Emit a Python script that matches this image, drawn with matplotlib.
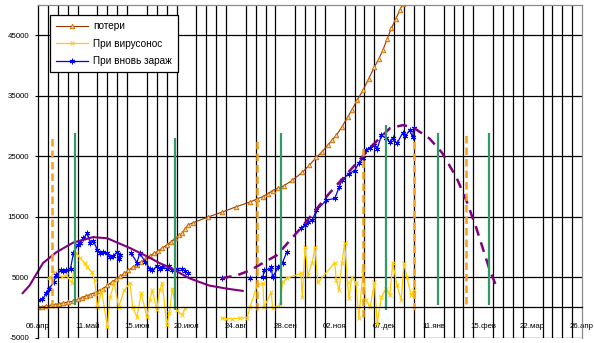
import numpy as np
import matplotlib
matplotlib.use("Agg")
import matplotlib.pyplot as plt

plt.rcParams["font.family"] = ["Liberation Sans", "DejaVu Sans"]

# ── ось времени: дни от 06.апр ───────────────────────────────
tick_days = [0, 35, 70, 105, 140, 175, 210, 245, 280, 315, 350, 385]
tick_labels = ["06.апр", "11.май", "15.июн", "20.июл", "24.авг", "28.сен",
               "02.ноя", "07.дек", "11.янв", "15.фев", "22.мар", "26.апр"]
y_ticks = [-5000, 5000, 15000, 25000, 35000, 45000]

# ── потери ───────────────────────────────────────────────────
loss_days = [0, 3, 6, 9, 12, 15, 18, 21, 25, 28, 31, 34, 37, 40, 43, 46, 49,
             52, 55, 58, 61, 64, 67, 70, 73, 76, 79, 82, 85, 88, 91, 94, 97,
             100, 102, 104, 106, 110, 120, 130, 140, 150, 155, 159, 163, 166,
             170, 174, 180, 187, 192, 197, 201, 205, 208, 211, 215, 219, 222,
             226, 230, 234, 238, 241, 244, 247, 250, 253, 256, 258]
loss_vals = [0, 100, 200, 300, 450, 600, 700, 850, 1000, 1300, 1600, 1900,
             2100, 2400, 2700, 3100, 3600, 4100, 4600, 5100, 5600, 6100, 6600,
             7000, 7500, 8000, 8500, 8900, 9300, 9800, 10300, 10800, 11400,
             11900, 12200, 13000, 13600, 14000, 14900, 15700, 16600, 17400,
             17900, 18300, 18800, 19300, 19700, 20100, 21000, 22300, 23500,
             24800, 25700, 26800, 27600, 28400, 29800, 31400, 32600, 34300,
             35900, 37800, 39700, 41000, 42500, 44300, 46100, 47600, 49100,
             50200]

# ── при вирусоносительстве ───────────────────────────────────
carrier_days = [8, 12, 17, 20, 24, 27, 30, 33, 35, 38, 40, 42, 45, 49, 51, 54,
                57, 61, 65, 67, 70, 73, 77, 79, 81, 84, 86, 88, 91, 93, 95, 98,
                102, 104, 120, 130, 133, 137, 143, 148, 150, 155, 159, 160, 165,
                166, 171, 173, 176, 186, 187, 189, 191, 194, 196, 198, 210, 211,
                213, 215, 217, 219, 220, 222, 225, 227, 230, 232, 235, 238, 240,
                243, 246, 249, 251, 254, 257, 259, 261, 264, 266]
carrier_vals = [4800, 5800, 5000, 5300, 4000, 9000, 8100, 7300, 6600, 5800,
                4500, 0, 2800, -3300, 1700, 4000, 0, 2800, 4000, 0, -1600, 2300,
                -1600, 1200, 2800, -500, 2800, 4000, -3000, -1000, 3100, -500,
                -1300, -200, np.nan, -1800, -1900, -1900, -1800, -1700, 0, 3600,
                4000, 0, 2500, -200, 300, 4100, 4800, 5600, 1700, 9900, 5300,
                7400, 9900, 4100, 7400, 4500, 2800, 7300, 10700, 4100, 1500,
                5000, 4000, -1800, 6100, 1200, 0, 4100, -2600, 1700, 3000, 2000,
                7400, 3600, 1200, 7300, 5000, 2000, 2800]

# ── при вновь заражённых ─────────────────────────────────────
new_days = [0, 3, 6, 8, 11, 13, 16, 18, 20, 23, 25, 28, 30, 32, 35, 37, 39,
            42, 44, 46, 49, 51, 53, 56, 57, 58, 62, 66, 70, 72, 76, 79, 81,
            84, 86, 88, 91, 93, 95, 98, 102, 104, 106, 118, 130, 140, 150, 155,
            159, 160, 164, 165, 166, 170, 173, 176, 180, 186, 189, 191, 194,
            197, 204, 210, 213, 215, 220, 224, 227, 230, 232, 235, 238, 240,
            243, 246, 249, 251, 254, 258, 260, 263, 265, 266]
new_vals = [1200, 1300, 2300, 3100, 4100, 5300, 6100, 6000, 6100, 6400, 8900,
            10300, 10700, 11400, 12200, 10600, 11000, 9500, 9000, 9200, 9000,
            8300, 8500, 9100, 8000, 8600, np.nan, 8900, 7400, 8900, 7500, 6400,
            6100, 6800, 6400, 6600, 6400, 6900, 6100, 6400, 6400, 6000, 5600,
            np.nan, 4800, np.nan, 4800, np.nan, 5000, 6100, 6400, 6600, 5000,
            6600, 7400, 9100, np.nan, 13100, 13600, 14100, 14400, 16000, 17700,
            18000, 19800, 21000, 22100, 22600, 23800, 24600, 26000, 26400,
            26800, 26200, 28400, 28000, 27300, 28000, 27100, 28800, 28300,
            29300, 28100, 29600]

# ── огибающие ────────────────────────────────────────────────
wave1_days = [-11, -6, 3.5, 13, 25, 39, 49, 65, 79, 86, 93, 107, 121, 133, 145]
wave1_vals = [2300, 3600, 7300, 9100, 10700, 11600, 11400, 9800, 8200, 7300,
              6600, 4800, 3600, 3100, 2700]
wave2_days = [130, 141, 150, 159, 169, 186, 206, 228, 235, 249, 258, 265, 277,
              286, 296, 303, 310, 319, 324]
wave2_vals = [4800, 5300, 6100, 7300, 8600, 13100, 18800, 24500, 26400, 29600,
              30100, 29800, 27900, 25500, 21500, 17700, 13200, 6600, 3600]

# ── отметки ──────────────────────────────────────────────────
orange_days = [10, 155, 230, 266, 303]
orange_top = [28000, 28000, 26800, 28000, 28800]
orange_bottom = [0, -450, -1600, -450, 600]
green_days = [26, 97, 172, 246, 283, 319]
green_top = [28800, 28000, 28800, 30100, 28800, 28800]
green_bottom = [400, -450, 400, -450, 400, 400]

fig = plt.figure(figsize=(5.94, 3.43), dpi=100)
ax = fig.add_axes([0.064, 0.016, 0.916, 0.970])

ax.set_xlim(0, 385)
ax.set_ylim(-5000, 50000)

# оси: категория пересекает Y в нуле
ax.spines["bottom"].set_position(("data", 0))
ax.spines["bottom"].set_linewidth(0.9)
ax.spines["left"].set_linewidth(0.9)
for s in ("top", "right"):
    ax.spines[s].set_color("#8c8c8c")
    ax.spines[s].set_linewidth(0.9)

# сетка
ax.set_xticks(np.arange(0, 386, 7), minor=True)
ax.grid(True, which="minor", axis="x", color="black", linewidth=0.9)
ax.set_yticks(y_ticks)
ax.set_yticklabels([str(v) for v in y_ticks])
ax.grid(True, which="major", axis="y", color="black", linewidth=0.9)
ax.set_xticks(tick_days)
ax.set_xticklabels(tick_labels)
ax.tick_params(axis="x", which="both", length=0, pad=11.5, labelsize=5.7)
ax.tick_params(axis="y", length=2.5, pad=4, width=0.8, labelsize=5.7)
ax.set_axisbelow(True)

ax.plot(loss_days, loss_vals, color="#993300", linewidth=0.8, marker="^",
        markersize=3.2, markeredgecolor="#D07000", markerfacecolor="#F6D7A8",
        markeredgewidth=0.7, label="потери")
ax.plot(carrier_days, carrier_vals, color="#FFCC00", linewidth=0.9, marker="x",
        markersize=3.2, markeredgewidth=0.7, label="При вирусонос")
ax.plot(new_days, new_vals, color="#0000FF", linewidth=0.9, marker=(6, 2, 0),
        markersize=4, markeredgewidth=0.7, label="При вновь зараж")

ax.plot(wave1_days, wave1_vals, color="#800080", linewidth=1.5,
        clip_on=False, solid_capstyle="round")
ax.plot(wave2_days, wave2_vals, color="#800080", linewidth=1.8,
        linestyle=(0, (4, 2.8)))

ax.vlines(orange_days, orange_bottom, orange_top, colors="#F5A01E",
          linewidth=1.8, linestyles=(0, (3, 1.6)))
ax.vlines(green_days, green_bottom, green_top, colors="#339966", linewidth=1.6)

leg = ax.legend(loc="upper left", bbox_to_anchor=(0.022, 0.969), fontsize=7.2,
                frameon=True, fancybox=False, handlelength=3.2,
                labelspacing=0.75, borderpad=0.6, handletextpad=0.5,
                borderaxespad=0)
leg.get_frame().set_edgecolor("black")
leg.get_frame().set_linewidth(0.9)
leg.get_frame().set_alpha(1)

fig.savefig("out.png", dpi=100, facecolor="white")
